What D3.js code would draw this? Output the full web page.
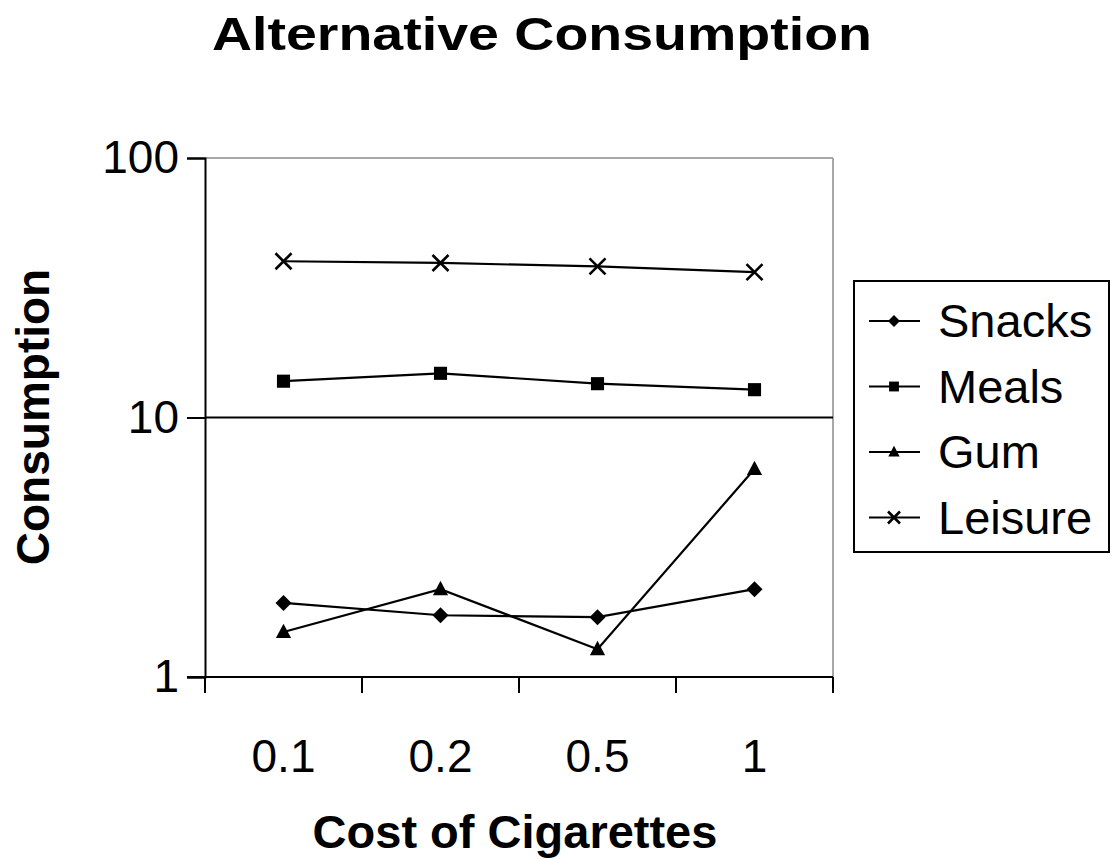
<!DOCTYPE html>
<html>
<head>
<meta charset="utf-8">
<script src="https://cdn.jsdelivr.net/npm/d3@7"></script>
<style>
	body { margin:0; background:#fff; }
	svg { display:block; font-family:"Liberation Sans", Arial, sans-serif; }
</style>
</head>
<body>
<div id="chartsArea"></div>
<script>
// chart data
var costs = ["0.1", "0.2", "0.5", "1"];
var snacks = [1.93, 1.73, 1.70, 2.18];
var meals = [13.8, 14.8, 13.5, 12.8];
var gum = [1.49, 2.18, 1.28, 6.33];
var leisure = [40.0, 39.4, 38.2, 36.3];
var seriesNames = ["Snacks", "Meals", "Gum", "Leisure"];
var yTicks = [1, 10, 100];

var makeChart=function() {

	var W = 1115, H = 859;
	var plot = {left: 205, right: 833, top: 158, bottom: 677};

	var svg = d3.select("#chartsArea").append("svg")
		.attr("width", W)
		.attr("height", H);

	var x = d3.scaleBand()
		.domain(costs)
		.range([plot.left, plot.right]);

	var y = d3.scaleLog()
		.domain([1, 100])
		.range([plot.bottom, plot.top]);

	var series = [
		{name: seriesNames[0], values: snacks, shape: "diamond"},
		{name: seriesNames[1], values: meals, shape: "square"},
		{name: seriesNames[2], values: gum, shape: "triangle"},
		{name: seriesNames[3], values: leisure, shape: "cross"}
	];

	// title
	svg.append("text")
		.attr("x", 542)
		.attr("y", 50)
		.attr("text-anchor", "middle")
		.attr("font-weight", "bold")
		.attr("font-size", 47)
		.attr("textLength", 660)
		.attr("lengthAdjust", "spacingAndGlyphs")
		.text("Alternative Consumption");

	// plot frame (gray top/right)
	svg.append("line")
		.attr("x1", plot.left).attr("x2", plot.right)
		.attr("y1", plot.top).attr("y2", plot.top)
		.attr("stroke", "#a8a8a8").attr("stroke-width", 2);
	svg.append("line")
		.attr("x1", plot.right).attr("x2", plot.right)
		.attr("y1", plot.top).attr("y2", plot.bottom)
		.attr("stroke", "#a8a8a8").attr("stroke-width", 2);

	// major gridline at 10
	svg.append("g")
		.selectAll("line")
		.data(yTicks.filter(function(d) { return d > 1 && d < 100; }))
		.enter().append("line")
		.attr("x1", plot.left).attr("x2", plot.right)
		.attr("y1", function(d) { return y(d); })
		.attr("y2", function(d) { return y(d); })
		.attr("stroke", "#000").attr("stroke-width", 2);

	// y axis
	var yAxis = svg.append("g")
		.attr("transform", "translate(" + plot.left + ",0)")
		.call(d3.axisLeft(y)
			.tickValues(yTicks)
			.tickFormat(d3.format("d"))
			.tickSize(18)
			.tickPadding(8));
	yAxis.select(".domain").attr("stroke", "#000").attr("stroke-width", 2);
	yAxis.selectAll(".tick line").attr("stroke-width", 2);
	yAxis.selectAll("text")
		.attr("font-size", 46)
		.attr("font-family", "Liberation Sans, Arial, sans-serif")
		.attr("fill", "#000");

	// x axis: labels at band centres, ticks on band edges
	var xAxis = svg.append("g")
		.attr("transform", "translate(0," + plot.bottom + ")")
		.call(d3.axisBottom(x).tickSize(0).tickPadding(62));
	xAxis.select(".domain").remove();
	xAxis.selectAll("text")
		.attr("font-size", 46)
		.attr("font-family", "Liberation Sans, Arial, sans-serif")
		.attr("fill", "#000");

	svg.append("line")
		.attr("x1", plot.left - 18).attr("x2", plot.right)
		.attr("y1", plot.bottom).attr("y2", plot.bottom)
		.attr("stroke", "#000").attr("stroke-width", 2);

	var edges = costs.map(function(c) { return x(c); }).concat([plot.right]);
	svg.append("g")
		.selectAll("line")
		.data(edges)
		.enter().append("line")
		.attr("x1", function(d) { return d; })
		.attr("x2", function(d) { return d; })
		.attr("y1", plot.bottom)
		.attr("y2", plot.bottom + 16)
		.attr("stroke", "#000").attr("stroke-width", 2);

	// axis titles
	svg.append("text")
		.attr("x", 515)
		.attr("y", 848)
		.attr("text-anchor", "middle")
		.attr("font-weight", "bold")
		.attr("font-size", 47)
		.text("Cost of Cigarettes");

	svg.append("text")
		.attr("transform", "translate(49,417) rotate(-90)")
		.attr("text-anchor", "middle")
		.attr("font-weight", "bold")
		.attr("font-size", 46)
		.text("Consumption");

	var cx = function(i) { return x(costs[i]) + x.bandwidth() / 2; };

	var line = d3.line()
		.x(function(d, i) { return cx(i); })
		.y(function(d) { return y(d); });

	// marker paths, r = half size
	var drawMarker = function(g, shape, r) {
		var d;
		if (shape === "cross") {
			g.append("path")
				.attr("d", "M" + (-r) + "," + (-r) + "L" + r + "," + r + "M" + (-r) + "," + r + "L" + r + "," + (-r))
				.attr("stroke", "#000")
				.attr("stroke-width", 2.6)
				.attr("fill", "none");
			return;
		}
		if (shape === "diamond") {
			d = "M0," + (-r) + "L" + r + ",0L0," + r + "L" + (-r) + ",0Z";
		} else if (shape === "square") {
			var s = r * 0.82;
			d = "M" + (-s) + "," + (-s) + "H" + s + "V" + s + "H" + (-s) + "Z";
		} else {
			d = "M0," + (-r * 1.05) + "L" + (r * 0.95) + "," + (r * 0.75) + "L" + (-r * 0.95) + "," + (r * 0.75) + "Z";
		}
		g.append("path").attr("d", d).attr("fill", "#000");
	};

	series.forEach(function(s) {
		svg.append("path")
			.datum(s.values)
			.attr("d", line)
			.attr("fill", "none")
			.attr("stroke", "#000")
			.attr("stroke-width", 2.2);

		s.values.forEach(function(v, i) {
			var g = svg.append("g")
				.attr("transform", "translate(" + cx(i) + "," + y(v) + ")");
			drawMarker(g, s.shape, 8);
		});
	});

	// legend
	var lg = {x: 854, y: 281, w: 255, h: 271};
	svg.append("rect")
		.attr("x", lg.x).attr("y", lg.y)
		.attr("width", lg.w).attr("height", lg.h)
		.attr("fill", "#fff")
		.attr("stroke", "#000").attr("stroke-width", 2);

	var item = svg.append("g")
		.selectAll("g")
		.data(series)
		.enter().append("g")
		.attr("transform", function(d, i) {
			return "translate(" + lg.x + "," + (lg.y + 40 + i * 65.5) + ")";
		});

	item.append("line")
		.attr("x1", 15).attr("x2", 66)
		.attr("stroke", "#000").attr("stroke-width", 2);

	item.each(function(d) {
		var g = d3.select(this).append("g").attr("transform", "translate(40,0)");
		drawMarker(g, d.shape, 6);
	});

	item.append("text")
		.attr("x", 84)
		.attr("dy", "0.35em")
		.attr("font-size", 47)
		.text(function(d) { return d.name; });
};

makeChart();
</script>
</body>
</html>
